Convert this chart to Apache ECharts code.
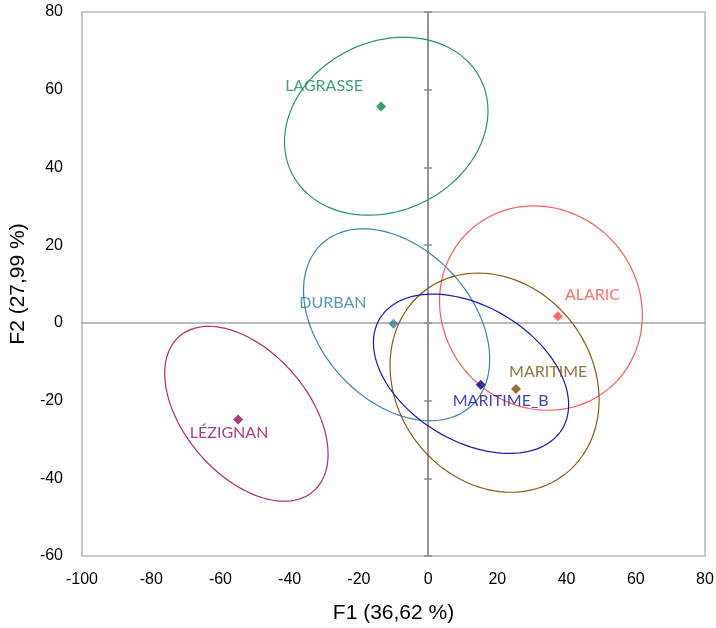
<!DOCTYPE html>
<html>
<head>
<meta charset="utf-8">
<script src="https://cdn.jsdelivr.net/npm/echarts@6/dist/echarts.min.js"></script>
<style>
  html, body { margin: 0; padding: 0; background: #fff; }
  #chart { width: 716px; height: 628px; }
</style>
</head>
<body>
<div id="chart"></div>
<script>
  // groups and their centroids on F1 / F2
  const groups = ['LAGRASSE', 'DURBAN', 'ALARIC', 'MARITIME', 'MARITIME_B', 'LÉZIGNAN'];
  const f1 = [-13.6, -10.0, 37.5, 25.4, 15.2, -54.9];
  const f2 = [55.7, -0.2, 1.7, -17.0, -15.9, -24.9];

  // confidence ellipses: centre, half width (F1), half height (F2), phase (deg)
  const ellCx = [-12.1, -9.1, 32.6, 19.2, 12.4, -52.5];
  const ellCy = [50.6, -0.5, 3.8, -15.4, -13.1, -23.4];
  const ellHalfW = [29.4, 26.9, 29.3, 30.2, 28.2, 23.6];
  const ellHalfH = [22.9, 24.7, 26.3, 28.2, 20.5, 22.5];
  const ellPhase = [80, 111, 94, 99, 113, 117.5];

  const xTicks = { min: -100, max: 80, step: 20 };
  const yTicks = { min: -60, max: 80, step: 20 };

  // styling
  const ellipseColors = ['#1F9A57', '#3A87AA', '#FF5A5A', '#8A5A12', '#1818C0', '#B42A72'];
  const pointColors = ['#008A47', '#2E7EA3', '#FF4646', '#7A4A00', '#00008E', '#990A58'];
  const labelColors = ['#0E8C48', '#2C7DA8', '#FF4A4A', '#7E4E0E', '#1010B0', '#9C0C5E'];
  const labelPlace = [
    { align: 'right', offset: [-18, -21] },
    { align: 'right', offset: [-27, -21] },
    { align: 'left', offset: [7, -21] },
    { align: 'left', offset: [-7, -17] },
    { align: 'left', offset: [-28, 16] },
    { align: 'center', offset: [-9, 13] }
  ];

  const axisFont = '"Liberation Sans", Arial, sans-serif';
  const zeroLine = { color: '#8E8E8E', width: 1.5 };

  const chart = echarts.init(document.getElementById('chart'));

  const baseX = { type: 'value', min: xTicks.min, max: xTicks.max, interval: xTicks.step, splitLine: { show: false } };
  const baseY = { type: 'value', min: yTicks.min, max: yTicks.max, interval: yTicks.step, splitLine: { show: false } };

  chart.setOption({
    animation: false,
    backgroundColor: '#fff',
    grid: {
      left: 82, right: 11, top: 12, bottom: 72,
      show: true, borderColor: '#C8C8C8', borderWidth: 2,
      outerBoundsMode: 'none'
    },
    xAxis: [
      Object.assign({}, baseX, {
        position: 'bottom',
        name: 'F1 (36,62 %)',
        nameLocation: 'middle',
        nameGap: 47,
        nameTextStyle: { fontFamily: axisFont, fontSize: 21, color: '#000' },
        axisLine: { show: false, onZero: false },
        axisTick: { show: false },
        axisLabel: { fontFamily: axisFont, fontSize: 16, color: '#000', margin: 16 }
      }),
      Object.assign({}, baseX, {
        position: 'bottom',
        axisLine: { show: true, onZero: true, onZeroAxisIndex: 0, lineStyle: { color: '#A4A4A4', width: 1.5 } },
        axisTick: { show: false },
        axisLabel: { show: false }
      })
    ],
    yAxis: [
      Object.assign({}, baseY, {
        position: 'left',
        name: 'F2 (27,99 %)',
        nameLocation: 'middle',
        nameGap: 52,
        nameTextStyle: { fontFamily: axisFont, fontSize: 21, color: '#000' },
        axisLine: { show: false, onZero: false },
        axisTick: { show: false },
        axisLabel: { fontFamily: axisFont, fontSize: 16, color: '#000', margin: 19 }
      }),
      Object.assign({}, baseY, {
        position: 'left',
        axisLine: { show: true, onZero: true, onZeroAxisIndex: 0, lineStyle: zeroLine },
        axisTick: { show: true, inside: false, length: 4, lineStyle: zeroLine },
        axisLabel: { show: false }
      }),
      Object.assign({}, baseY, {
        position: 'left',
        axisLine: { show: true, onZero: true, onZeroAxisIndex: 0, lineStyle: zeroLine },
        axisTick: { show: true, inside: true, length: 4, lineStyle: zeroLine },
        axisLabel: { show: false }
      })
    ],
    series: [
      {
        type: 'custom',
        xAxisIndex: 0,
        yAxisIndex: 0,
        encode: { x: 0, y: 1 },
        data: groups.map((g, i) => [ellCx[i], ellCy[i], ellHalfW[i], ellHalfH[i], ellPhase[i]]),
        renderItem: function (params, api) {
          const cx = api.value(0), cy = api.value(1);
          const a = api.value(2), b = api.value(3);
          const ph = api.value(4) * Math.PI / 180;
          const pts = [];
          for (let k = 0; k <= 120; k++) {
            const t = k / 120 * Math.PI * 2;
            pts.push(api.coord([cx + a * Math.cos(t), cy + b * Math.cos(t - ph)]));
          }
          return {
            type: 'polygon',
            shape: { points: pts },
            style: { fill: 'none', stroke: ellipseColors[params.dataIndex], lineWidth: 1.2 }
          };
        },
        z: 2
      },
      {
        type: 'scatter',
        xAxisIndex: 0,
        yAxisIndex: 0,
        symbol: 'diamond',
        symbolSize: 10,
        z: 3,
        data: groups.map((g, i) => ({
          name: g,
          value: [f1[i], f2[i]],
          itemStyle: { color: pointColors[i] },
          label: {
            show: true,
            formatter: g,
            position: 'inside',
            align: labelPlace[i].align,
            verticalAlign: 'middle',
            offset: labelPlace[i].offset,
            color: labelColors[i],
            fontFamily: 'Lato, "Open Sans", sans-serif',
            fontSize: 16
          }
        }))
      }
    ]
  });
</script>
</body>
</html>
